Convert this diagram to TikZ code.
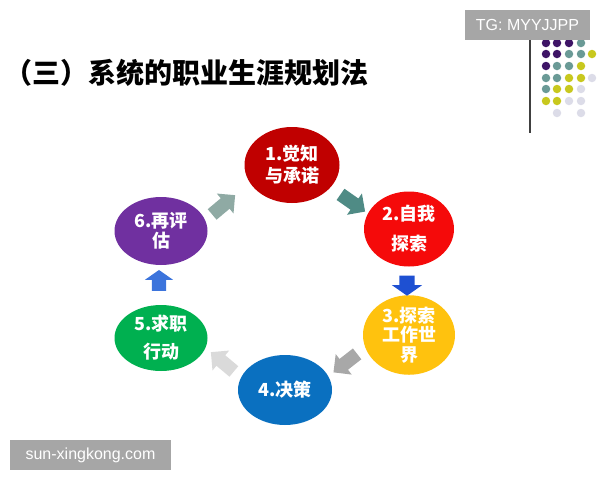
\documentclass[tikz,border=0pt]{standalone}
\usepackage{fontspec}
\setmainfont{Liberation Sans}
\newfontfamily\cjk{Noto Sans CJK SC}
\usetikzlibrary{shapes.geometric,shapes.arrows}
\definecolor{cA}{HTML}{C00000}
\definecolor{cB}{HTML}{F50A0A}
\definecolor{cC}{HTML}{FFC20E}
\definecolor{cD}{HTML}{0A70C0}
\definecolor{cE}{HTML}{00B050}
\definecolor{cF}{HTML}{7030A0}
\definecolor{aA}{HTML}{8FAAA4}
\definecolor{aB}{HTML}{4F8B85}
\definecolor{aC}{HTML}{1E50D2}
\definecolor{aD}{HTML}{A8A8A8}
\definecolor{aE}{HTML}{DADADA}
\definecolor{aF}{HTML}{3C74DC}
\definecolor{dP}{HTML}{3E1466}
\definecolor{dT}{HTML}{6A9A96}
\definecolor{dY}{HTML}{C8C81E}
\definecolor{dL}{HTML}{DCDCE8}
\definecolor{wm}{HTML}{A6A6A6}
\begin{document}
\begin{tikzpicture}[x=1pt,y=-1pt,
  stage/.style={ellipse,inner sep=0pt,text=white,align=center,
    font=\cjk\bfseries\fontsize{18}{#1}\selectfont},
  stage/.default=21,
  blockarrow/.style={single arrow,draw=none,inner sep=0pt,
    minimum height=30pt,minimum width=26pt,single arrow head extend=6pt},
  dot/.style={circle,inner sep=0pt,minimum size=8.5pt},
  wmbox/.style={fill=wm,text=white,inner sep=0pt,font=\fontsize{16}{18}\selectfont}]
\useasboundingbox (0,0) rectangle (600,480);
% title
\node[anchor=west,inner sep=0pt,font=\cjk\bfseries\fontsize{28}{30}\selectfont] (title) at (4,73) {（三）系统的职业生涯规划法};
% side decoration
\coordinate (ltop) at (530,38);
\coordinate (lbot) at (530,133);
\draw[line width=1.2pt,black!75] (ltop) -- (lbot);
\foreach \x/\y/\c in {546/43/dP,557/43/dP,569/43/dP,581/43/dT,
  546/54/dP,557/54/dP,569/54/dT,581/54/dT,592/54/dY,
  546/66/dP,557/66/dT,569/66/dT,581/66/dY,
  546/78/dT,557/78/dT,569/78/dY,581/78/dY,592/78/dL,
  546/89/dT,557/89/dY,569/89/dY,581/89/dL,
  546/101/dY,557/101/dY,569/101/dL,581/101/dL,
  557/113/dL,581/113/dL}
  \node[dot,fill=\c] at (\x,\y) {};
\node[wmbox,minimum width=125pt,minimum height=30pt] (tg) at (527.5,25) {TG: MYYJJPP};
% stages
\node[stage=22,fill=cA,minimum width=95pt,minimum height=76pt] (s1) at (292,165)
  {1.觉知\\与承诺};
\node[stage=30,fill=cB,minimum width=90pt,minimum height=75pt] (s2) at (409,229)
  {2.自我\\探索};
\node[stage=19.5,fill=cC,minimum width=92pt,minimum height=70pt] (s3) at (409,335)
  {3.探索\\工作世\\界};
\node[stage,fill=cD,minimum width=94pt,minimum height=70pt] (s4) at (285,390) {4.决策};
\node[stage=28,fill=cE,minimum width=93pt,minimum height=66pt] (s5) at (161,338)
  {5.求职\\行动};
\node[stage=20,fill=cF,minimum width=93pt,minimum height=68pt] (s6) at (161,231)
  {6.再评\\估};
% block arrows
\node[blockarrow,fill=aA,rotate=40] (a61) at (221,207) {\rule{0pt}{13pt}};
\node[blockarrow,fill=aB,rotate=-35] (a12) at (350,201) {\rule{0pt}{13pt}};
\node[blockarrow,fill=aC,rotate=-90,minimum height=20pt,minimum width=30pt,
  single arrow head extend=7.5pt,single arrow tip angle=110] (a23) at (407,283) {\rule{0pt}{15pt}};
\node[blockarrow,fill=aD,rotate=218] (a34) at (348,361) {\rule{0pt}{13pt}};
\node[blockarrow,fill=aE,rotate=140] (a45) at (225,364) {\rule{0pt}{13pt}};
\node[blockarrow,fill=aF,rotate=90,minimum height=21pt,minimum width=28pt,
  single arrow head extend=7pt,single arrow tip angle=110] (a56) at (159,283) {\rule{0pt}{14pt}};
% bottom watermark
\node[wmbox,minimum width=161pt,minimum height=30pt] (site) at (90.5,455) {sun-xingkong.com};
\end{tikzpicture}
\end{document}
